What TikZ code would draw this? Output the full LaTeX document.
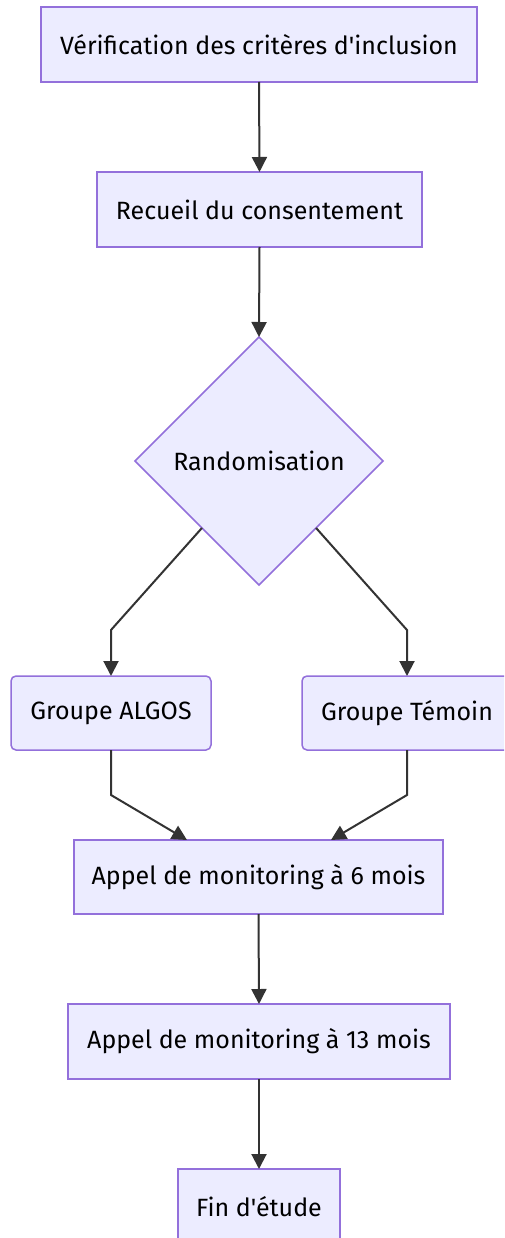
\documentclass[tikz,border=0pt]{standalone}
\usepackage{fontspec}
\setmainfont{Fira Sans}[Ligatures=TeXOff]
\usetikzlibrary{shapes.geometric,arrows.meta,calc}
\definecolor{nodefill}{HTML}{ECECFF}
\definecolor{nodestroke}{HTML}{9370DB}
\definecolor{edgecol}{HTML}{333333}
\tikzset{
  boxnode/.style={draw=nodestroke, fill=nodefill, line width=1.5pt, inner sep=0pt, outer sep=0pt, font=\fontsize{25}{30}\selectfont, text=black},
  rbox/.style={boxnode, rounded corners=5pt},
  dianode/.style={boxnode, diamond, aspect=1, minimum width=248pt, minimum height=248pt},
  edge/.style={draw=edgecol, line width=2pt, -{Triangle[length=15pt,width=15pt]}}
}
\begin{document}
\begin{tikzpicture}[x=1pt,y=-1pt]
\useasboundingbox (0,0) rectangle (504,1238);
\clip (0,0) rectangle (504,1238);
\fill[white] (0,0) rectangle (504,1238);
\node[boxnode, minimum width=436pt, minimum height=75pt] (b1) at (259,44.5) {Vérification des critères d'inclusion};
\node[boxnode, minimum width=325pt, minimum height=75pt] (b2) at (259.5,209.5) {Recueil du consentement};
\node[dianode] (dia) at (259,461) {Randomisation};
\node[rbox, minimum width=200pt, minimum height=74pt] (ga) at (111,713) {Groupe ALGOS};
\node[rbox, minimum width=210pt, minimum height=74pt] (gt) at (407,713) {Groupe Témoin};
\node[boxnode, minimum width=369pt, minimum height=74pt] (b6) at (258.5,877) {Appel de monitoring à 6 mois};
\node[boxnode, minimum width=382pt, minimum height=75pt] (b7) at (259,1041.5) {Appel de monitoring à 13 mois};
\node[boxnode, minimum width=162pt, minimum height=75pt] (b8) at (259,1206.5) {Fin d'étude};
\coordinate (k1) at (111,630);
\coordinate (k2) at (407,630);
\coordinate (k3) at (111,795);
\coordinate (k4) at (407,795);
\coordinate (t1) at (187,840);
\coordinate (t2) at (331,840);
\draw[edge] (b1.south) -- (b2.north);
\draw[edge] (b2.south) -- (dia.north);
\draw[edge] ($(dia.south)!0.46!(dia.west)$) -- (k1) -- (ga.north);
\draw[edge] ($(dia.south)!0.46!(dia.east)$) -- (k2) -- (gt.north);
\draw[edge] (ga.south) -- (k3) -- (t1);
\draw[edge] (gt.south) -- (k4) -- (t2);
\draw[edge] (b6.south) -- (b7.north);
\draw[edge] (b7.south) -- (b8.north);
\end{tikzpicture}
\end{document}
